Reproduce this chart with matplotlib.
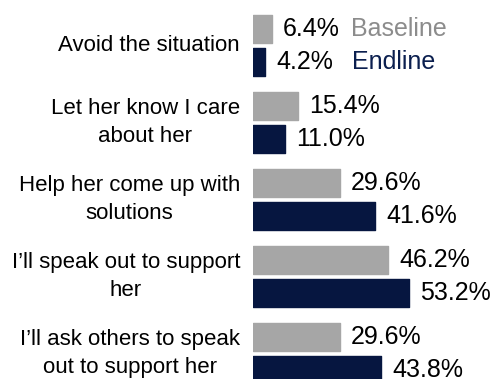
import matplotlib
matplotlib.use("Agg")
import matplotlib.pyplot as plt
import numpy as np

plt.rcParams['font.family'] = ['Liberation Sans', 'DejaVu Sans']

categories = [
    "Avoid the situation",
    "Let her know I care\nabout her",
    "Help her come up with\nsolutions",
    "I\u2019ll speak out to support\nher",
    "I\u2019ll ask others to speak\nout to support her",
]
baseline = [6.4, 15.4, 29.6, 46.2, 29.6]
endline = [4.2, 11.0, 41.6, 53.2, 43.8]
series_names = ["Baseline", "Endline"]

base_color = "#A6A6A6"
end_color = "#061640"
base_text = "#8C8C8C"
end_text = "#0B1F4F"

W, H = 493, 379
fig = plt.figure(figsize=(W / 100, H / 100), dpi=100)
x0_px = 253
ax = fig.add_axes([x0_px / W, 0, (W - x0_px) / W, 1])

pitch = 77.0
top_px = 45.5
ax.set_ylim((H - top_px) / pitch, -top_px / pitch)
ax.set_xlim(0, (W - x0_px) / 2.93)

y = np.arange(len(categories))
off = 16.5 / pitch
h = 28 / pitch

ax.barh(y - off, baseline, height=h, color=base_color, edgecolor=base_color,
        linewidth=1.0, joinstyle="round")
ax.barh(y + off, endline, height=h, color=end_color, edgecolor=end_color,
        linewidth=1.0, joinstyle="round")

val_fs = 18
cat_fs = 16
for yi, b, e in zip(y, baseline, endline):
    ax.annotate(f"{b:.1f}%", (b, yi - off), xytext=(8, 0), textcoords="offset points",
                va="center", ha="left", fontsize=val_fs, color="black", annotation_clip=False)
    ax.annotate(f"{e:.1f}%", (e, yi + off), xytext=(8, 0), textcoords="offset points",
                va="center", ha="left", fontsize=val_fs, color="black", annotation_clip=False)

# Series names next to the first group
ax.text(33.4, y[0] - off, series_names[0], va="center", ha="left", fontsize=val_fs, color=base_text)
ax.text(33.7, y[0] + off, series_names[1], va="center", ha="left", fontsize=val_fs, color=end_text)

for yi, c in zip(y, categories):
    ax.annotate(c, (0, yi), xytext=(-13 / 100 * 72, 0), textcoords="offset points",
                va="center", ha="right", multialignment="center", fontsize=cat_fs,
                linespacing=1.4, color="black", annotation_clip=False)

ax.axis("off")
fig.savefig("out.png", dpi=100)
